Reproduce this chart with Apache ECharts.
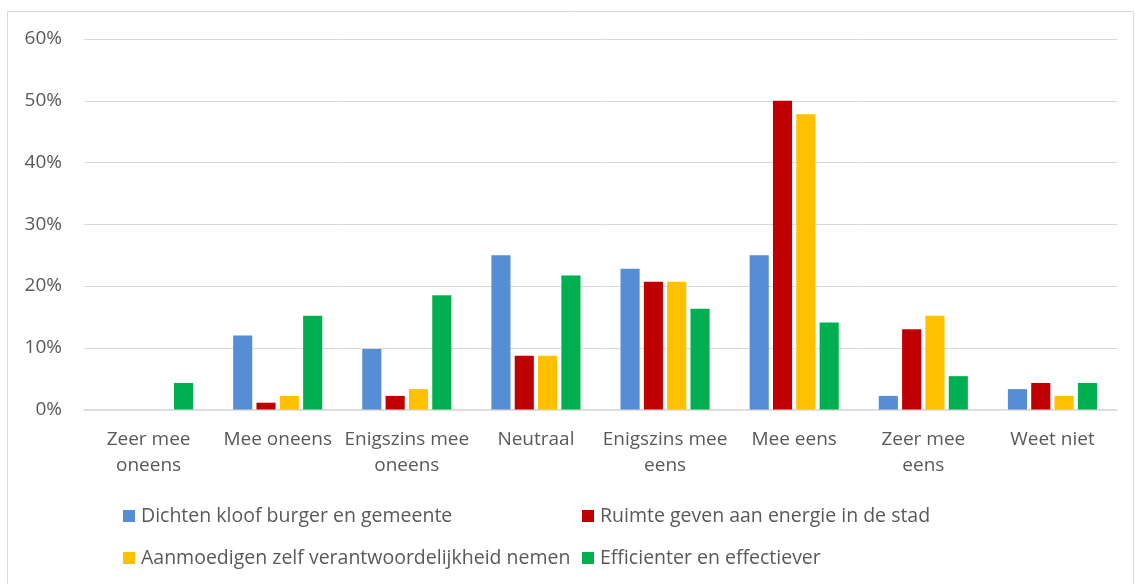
<!DOCTYPE html>
<html>
<head>
<meta charset="utf-8">
<script src="https://cdn.jsdelivr.net/npm/echarts@6/dist/echarts.min.js"></script>
<style>
  html, body { margin: 0; padding: 0; background: #fff; }
  #chart { width: 1135px; height: 584px; }
</style>
</head>
<body>
<div id="chart"></div>
<script>
// Answer categories (line breaks as shown under the axis)
const categories = [
  'Zeer mee\noneens', 'Mee oneens', 'Enigszins mee\noneens', 'Neutraal',
  'Enigszins mee\neens', 'Mee eens', 'Zeer mee\neens', 'Weet niet'
];

const seriesNames = [
  'Dichten kloof burger en gemeente',
  'Ruimte geven aan energie in de stad',
  'Aanmoedigen zelf verantwoordelijkheid nemen',
  'Efficienter en effectiever'
];

// Share of respondents per answer, in percent
const kloofValues      = [0, 12.0, 9.8, 25.0, 22.8, 25.0, 2.2, 3.3];
const ruimteValues     = [0, 1.1, 2.2, 8.7, 20.7, 50.0, 13.0, 4.3];
const aanmoedigValues  = [0, 2.2, 3.3, 8.7, 20.7, 47.8, 15.2, 2.2];
const efficientValues  = [4.3, 15.2, 18.5, 21.7, 16.3, 14.1, 5.4, 4.3];

const yTicks = [0, 10, 20, 30, 40, 50, 60];

const colors = ['#558ED5', '#C00000', '#FFC000', '#00B050'];
const allValues = [kloofValues, ruimteValues, aanmoedigValues, efficientValues];

const FONT = 'Open Sans';
const TEXT = '#595959';

const chart = echarts.init(document.getElementById('chart'));

const legendPos = [
  { left: 123, top: 506 },
  { left: 582, top: 506 },
  { left: 123, top: 548 },
  { left: 582, top: 548 }
];

chart.setOption({
  animation: false,
  backgroundColor: '#fff',
  graphic: [{
    type: 'rect',
    shape: { x: 7.5, y: 11.5, width: 1126, height: 590 },
    style: { fill: 'none', stroke: '#D9D9D9', lineWidth: 1 },
    silent: true,
    z: -10
  }],
  grid: { left: 84, right: 18, top: 39, bottom: 174.5 },
  legend: seriesNames.map((name, i) => ({
    data: [name],
    left: legendPos[i].left,
    top: legendPos[i].top,
    padding: 0,
    itemWidth: 12,
    itemHeight: 12,
    itemGap: 0,
    icon: 'rect',
    textStyle: { fontFamily: FONT, fontSize: 19.5, color: TEXT, padding: [0, 0, 0, 1] },
    selectedMode: false
  })),
  xAxis: {
    type: 'category',
    data: categories,
    axisLine: { lineStyle: { color: '#D9D9D9', width: 1.5 } },
    axisTick: { show: false },
    axisLabel: {
      interval: 0,
      margin: 17,
      fontFamily: FONT,
      fontSize: 19,
      lineHeight: 26,
      color: TEXT
    }
  },
  yAxis: {
    type: 'value',
    min: yTicks[0],
    max: yTicks[yTicks.length - 1],
    interval: 10,
    axisLine: { show: false },
    axisTick: { show: false },
    splitLine: { lineStyle: { color: '#D9D9D9', width: 1 } },
    axisLabel: {
      margin: 22,
      fontFamily: FONT,
      fontSize: 19,
      color: TEXT,
      formatter: v => v + '%'
    }
  },
  series: seriesNames.map((name, i) => ({
    name: name,
    type: 'bar',
    data: allValues[i],
    barGap: '22%',
    barCategoryGap: '31%',
    itemStyle: { color: colors[i] }
  }))
});
</script>
</body>
</html>
